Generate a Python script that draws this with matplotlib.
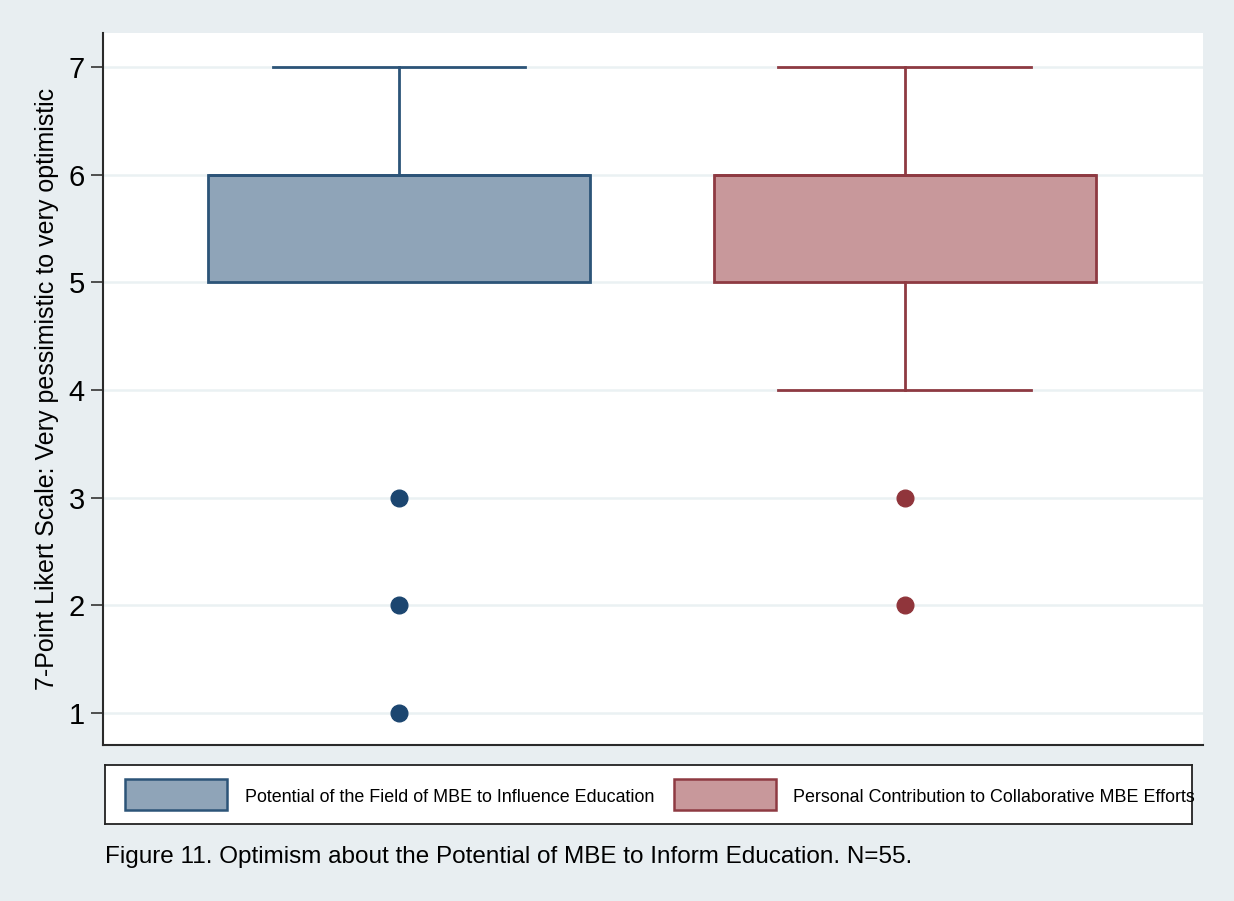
"""Box plots of optimism ratings (7-point Likert) for two MBE survey items."""

import matplotlib

matplotlib.use("Agg")
import matplotlib.pyplot as plt
from matplotlib.patches import Rectangle

# summary statistics per item
items = [
    "Potential of the Field of MBE to Influence Education",
    "Personal Contribution to Collaborative MBE Efforts",
]
q1 = [5, 5]
median = [6, 6]
q3 = [6, 6]
whisker_low = [5, 4]
whisker_high = [7, 7]
outliers = [[3, 2, 1], [3, 2]]
y_ticks = [1, 2, 3, 4, 5, 6, 7]

fill_colors = ["#8fa4b8", "#c8989b"]
edge_colors = ["#2c5478", "#8e3a42"]
dot_colors = ["#1c4670", "#90353b"]

caption = "Figure 11. Optimism about the Potential of MBE to Inform Education. N=55."
y_label = "7-Point Likert Scale: Very pessimistic to very optimistic"

plt.rcParams["font.family"] = ["Liberation Sans", "DejaVu Sans"]

W, H = 1234, 901
fig = plt.figure(figsize=(W / 100, H / 100), dpi=100, facecolor="#e8eef1")
ax = fig.add_axes([103 / W, 1 - 745 / H, 1100 / W, 712 / H])
ax.set_facecolor("white")

for i in range(len(items)):
    stats = [{
        "q1": q1[i], "med": median[i], "q3": q3[i],
        "whislo": whisker_low[i], "whishi": whisker_high[i],
        "fliers": outliers[i], "label": items[i],
    }]
    # no cap where the whisker collapses onto the box edge
    caps_lo = whisker_low[i] < q1[i]
    art = ax.bxp(
        stats,
        positions=[i + 1],
        widths=0.755,
        patch_artist=True,
        boxprops=dict(facecolor=fill_colors[i], edgecolor=edge_colors[i], linewidth=2),
        medianprops=dict(color=edge_colors[i], linewidth=2),
        whiskerprops=dict(color=edge_colors[i], linewidth=2),
        capprops=dict(color=edge_colors[i], linewidth=2),
        capwidths=0.5,
        flierprops=dict(marker="o", markersize=12, markerfacecolor=dot_colors[i],
                        markeredgecolor=dot_colors[i]),
        zorder=3,
    )
    if not caps_lo:
        art["caps"][0].set_visible(False)

ax.set_xlim(0.415, 2.589)
ax.set_ylim(0.703, 7.316)
ax.set_xticks([])
ax.set_yticks(y_ticks)
ax.tick_params(axis="y", labelsize=21, length=9, width=1.2, color="#333333", pad=4)
ax.grid(axis="y", color="#eaf1f3", linewidth=1.8, zorder=0)
ax.set_axisbelow(True)
for side in ["top", "right"]:
    ax.spines[side].set_visible(False)
for side in ["left", "bottom"]:
    ax.spines[side].set_linewidth(1.5)
    ax.spines[side].set_color("#2a2a2a")
ax.set_ylabel(y_label, fontsize=18, labelpad=7)

# legend panel below the plot
lax = fig.add_axes([105 / W, 1 - 824 / H, 1087 / W, 59 / H])
lax.set_xlim(0, 1087)
lax.set_ylim(59, 0)
lax.set_xticks([])
lax.set_yticks([])
lax.set_facecolor("white")
for sp in lax.spines.values():
    sp.set_linewidth(1.3)
    sp.set_color("#222222")
key_x = [20, 569]
text_x = [140, 688]
for i in range(len(items)):
    lax.add_patch(Rectangle((key_x[i], 14), 102, 31, facecolor=fill_colors[i],
                            edgecolor=edge_colors[i], linewidth=1.8))
    lax.text(text_x[i], 32, items[i], fontsize=12.9, va="center", ha="left",
             clip_on=False)

fig.text(105 / W, 1 - 857 / H, caption, fontsize=17.5, va="center", ha="left")

fig.savefig("out.png", dpi=100, facecolor=fig.get_facecolor())
